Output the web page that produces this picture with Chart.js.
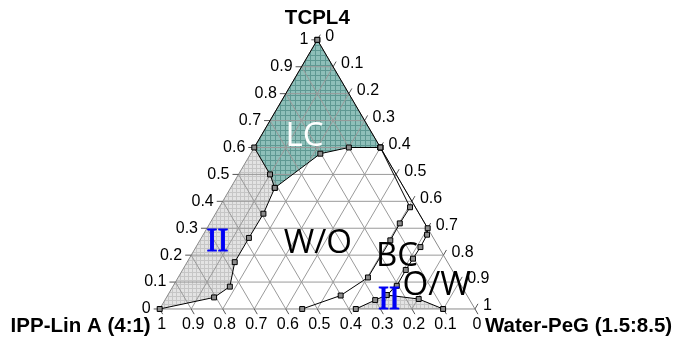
<!DOCTYPE html>
<html>
<head>
<meta charset="utf-8">
<script src="https://cdn.jsdelivr.net/npm/chart.js@4/dist/chart.umd.min.js"></script>
<style>
  html, body { margin: 0; padding: 0; background: #fff; }
  canvas { display: block; }
</style>
</head>
<body>
<canvas id="c" width="679" height="347"></canvas>
<script>
// Ternary composition: t = TCPL4, w = Water-PeG (1.5:8.5), IPP-Lin A (4:1) = 1 - t - w
const axisTop = 'TCPL4';
const axisLeft = 'IPP-Lin A (4:1)';
const axisRight = 'Water-PeG (1.5:8.5)';

const tickValues = [0, 0.1, 0.2, 0.3, 0.4, 0.5, 0.6, 0.7, 0.8, 0.9, 1];
const tickLabels = ['0', '0.1', '0.2', '0.3', '0.4', '0.5', '0.6', '0.7', '0.8', '0.9', '1'];

// LC (liquid crystal) boundary, from the TCPL4 corner round to the right edge
const lcT = [1, 0.6, 0.5, 0.45, 0.577, 0.6, 0.6];
const lcW = [0, 0, 0.1, 0.14, 0.221, 0.3, 0.4];

// Two-phase (II) boundary on the oil-rich side
const iiLeftT = [0.45, 0.354, 0.264, 0.174, 0.083, 0.043, 0];
const iiLeftW = [0.14, 0.152, 0.151, 0.151, 0.181, 0.151, 0];

// W/O microemulsion boundary
const woT = [0, 0.05, 0.117, 0.255, 0.318, 0.378, 0.6];
const woW = [0.452, 0.549, 0.602, 0.604, 0.6025, 0.605, 0.4];

// Bicontinuous (BC) outer boundary
const bcT = [0.6, 0.3, 0.276, 0.23, 0.187, 0.145, 0.086, 0.052, 0.033, 0];
const bcW = [0.4, 0.7, 0.71, 0.712, 0.71, 0.708, 0.709, 0.694, 0.667, 0.622];

// Two-phase (II) boundary on the water-rich side
const iiLowT = [0.052, 0.037, 0];
const iiLowW = [0.694, 0.803, 0.899];

// Region labels (t, w)
const regionNames = ['LC', 'W/O', 'BC', 'O/W', 'II', 'II'];
const regionT = [0.639, 0.243, 0.193, 0.087, 0.247, 0.034];
const regionW = [0.14, 0.38, 0.656, 0.835, 0.06, 0.71];

const H = Math.sqrt(3) / 2;
const toXY = (t, w) => ({ x: w + t / 2, y: t * H });
const pts = (T, W) => T.map((t, i) => toXY(t, W[i]));

const lcPts = pts(lcT, lcW);
const iiLeftPts = pts(iiLeftT, iiLeftW);
const woPts = pts(woT, woW);
const bcPts = pts(bcT, bcW);
const iiLowPts = pts(iiLowT, iiLowW);

// Filled areas
const lcPoly = lcPts;
const iiLeftPoly = lcPts.slice(1, 4).concat(iiLeftPts.slice(1));
const iiLowPoly = bcPts.slice(7).reverse().concat(iiLowPts.slice(1));

const canvas = document.getElementById('c');
const ctx = canvas.getContext('2d');

function gridPattern(bg, line, size) {
  const c = document.createElement('canvas');
  c.width = c.height = size;
  const g = c.getContext('2d');
  g.fillStyle = bg; g.fillRect(0, 0, size, size);
  g.fillStyle = line;
  g.fillRect(0, 0, size, 1);
  g.fillRect(0, 0, 1, size);
  return ctx.createPattern(c, 'repeat');
}
const tealFill = gridPattern('#8ebfb9', '#5e9892', 5);
const greyFill = gridPattern('#e3e3e3', '#c6c6c6', 4);

const FONT = '"Liberation Sans", Arial, sans-serif';

const ternaryFrame = {
  id: 'ternaryFrame',
  beforeDatasetsDraw(chart) {
    const c = chart.ctx, xs = chart.scales.x, ys = chart.scales.y;
    const px = p => [xs.getPixelForValue(p.x), ys.getPixelForValue(p.y)];
    const tw = (t, w) => px(toXY(t, w));
    const poly = (list, fill) => {
      c.beginPath();
      list.forEach((p, i) => { const [X, Y] = px(p); i ? c.lineTo(X, Y) : c.moveTo(X, Y); });
      c.closePath();
      c.fillStyle = fill; c.fill();
    };
    c.save();
    poly(iiLeftPoly, greyFill);
    poly(iiLowPoly, greyFill);
    poly(lcPoly, tealFill);

    // grid lines for the three components
    c.strokeStyle = '#9a9a9a';
    c.lineWidth = 1;
    const seg = (a, b) => { c.beginPath(); c.moveTo(a[0], a[1]); c.lineTo(b[0], b[1]); c.stroke(); };
    tickValues.forEach(v => {
      if (v <= 0 || v >= 1) return;
      seg(tw(v, 0), tw(v, 1 - v));          // constant TCPL4
      seg(tw(0, v), tw(1 - v, v));          // constant Water-PeG
      seg(tw(0, 1 - v), tw(1 - v, 0));      // constant IPP-Lin A
    });
    // triangle frame
    c.strokeStyle = '#8a8a8a';
    c.beginPath();
    const A = tw(0, 0), B = tw(0, 1), C = tw(1, 0);
    c.moveTo(A[0], A[1]); c.lineTo(B[0], B[1]); c.lineTo(C[0], C[1]); c.closePath();
    c.stroke();
    // tick marks
    c.strokeStyle = '#555';
    const L = 6;
    tickValues.forEach(v => {
      const l = tw(v, 0); seg(l, [l[0] - L, l[1]]);
      const r = tw(1 - v, v); seg(r, [r[0] + L * 0.5, r[1] - L * H]);
      const b = tw(0, 1 - v); seg(b, [b[0] + L * 0.5, b[1] + L * H]);
    });
    c.restore();
  },
  afterDatasetsDraw(chart) {
    const c = chart.ctx, xs = chart.scales.x, ys = chart.scales.y;
    const tw = (t, w) => { const p = toXY(t, w); return [xs.getPixelForValue(p.x), ys.getPixelForValue(p.y)]; };
    c.save();
    c.fillStyle = '#000';
    c.font = '16px ' + FONT;
    c.textBaseline = 'middle';
    tickValues.forEach((v, i) => {
      const lab = tickLabels[i];
      const l = tw(v, 0);
      c.textAlign = 'right'; c.fillText(lab, l[0] - 9, l[1]);
      const r = tw(1 - v, v);
      c.textAlign = 'left'; c.fillText(lab, r[0] + 8, r[1] - 3);
      const b = tw(0, 1 - v);
      c.textAlign = 'center'; c.fillText(lab, b[0] + 2, b[1] + 16);
    });
    c.font = 'bold 20.5px ' + FONT;
    const top = tw(1, 0), left = tw(0, 0), right = tw(0, 1);
    c.textAlign = 'center'; c.fillText(axisTop, top[0], top[1] - 21);
    c.textAlign = 'right'; c.fillText(axisLeft, left[0] - 9, left[1] + 17);
    c.textAlign = 'left'; c.fillText(axisRight, right[0] + 10, right[1] + 17);

    regionNames.forEach((name, i) => {
      const p = tw(regionT[i], regionW[i]);
      c.textAlign = 'center';
      if (name === 'II') {
        c.font = '33px "Liberation Serif", "Times New Roman", serif';
        c.fillStyle = '#0000f5';
        c.strokeStyle = '#0000f5';
        c.lineWidth = 0.9;
        c.strokeText(name, p[0], p[1]);
      } else {
        c.font = '33px "Open Sans", sans-serif';
        c.fillStyle = name === 'LC' ? '#ffffff' : '#000000';
      }
      c.fillText(name, p[0], p[1]);
    });
    c.restore();
  }
};

const boundary = (data, extra) => Object.assign({
  data,
  showLine: true,
  borderColor: '#000',
  borderWidth: 1,
  pointStyle: 'rect',
  pointRadius: 3.5,
  pointBackgroundColor: '#8c8c8c',
  pointBorderColor: '#000',
  pointBorderWidth: 1,
  clip: false
}, extra || {});

new Chart(ctx, {
  type: 'scatter',
  data: {
    datasets: [
      boundary(lcPts.concat([lcPts[0]])),
      boundary(iiLeftPts),
      boundary(woPts),
      boundary(bcPts),
      boundary(iiLowPts)
    ]
  },
  options: {
    responsive: false,
    animation: false,
    events: [],
    layout: { padding: 0 },
    plugins: { legend: { display: false }, tooltip: { enabled: false } },
    elements: { line: { tension: 0 } },
    scales: {
      x: { type: 'linear', min: -0.490625, max: 1.63125, display: false },
      y: { type: 'linear', min: -0.10625, max: 0.978125, display: false }
    }
  },
  plugins: [ternaryFrame]
});
</script>
</body>
</html>
